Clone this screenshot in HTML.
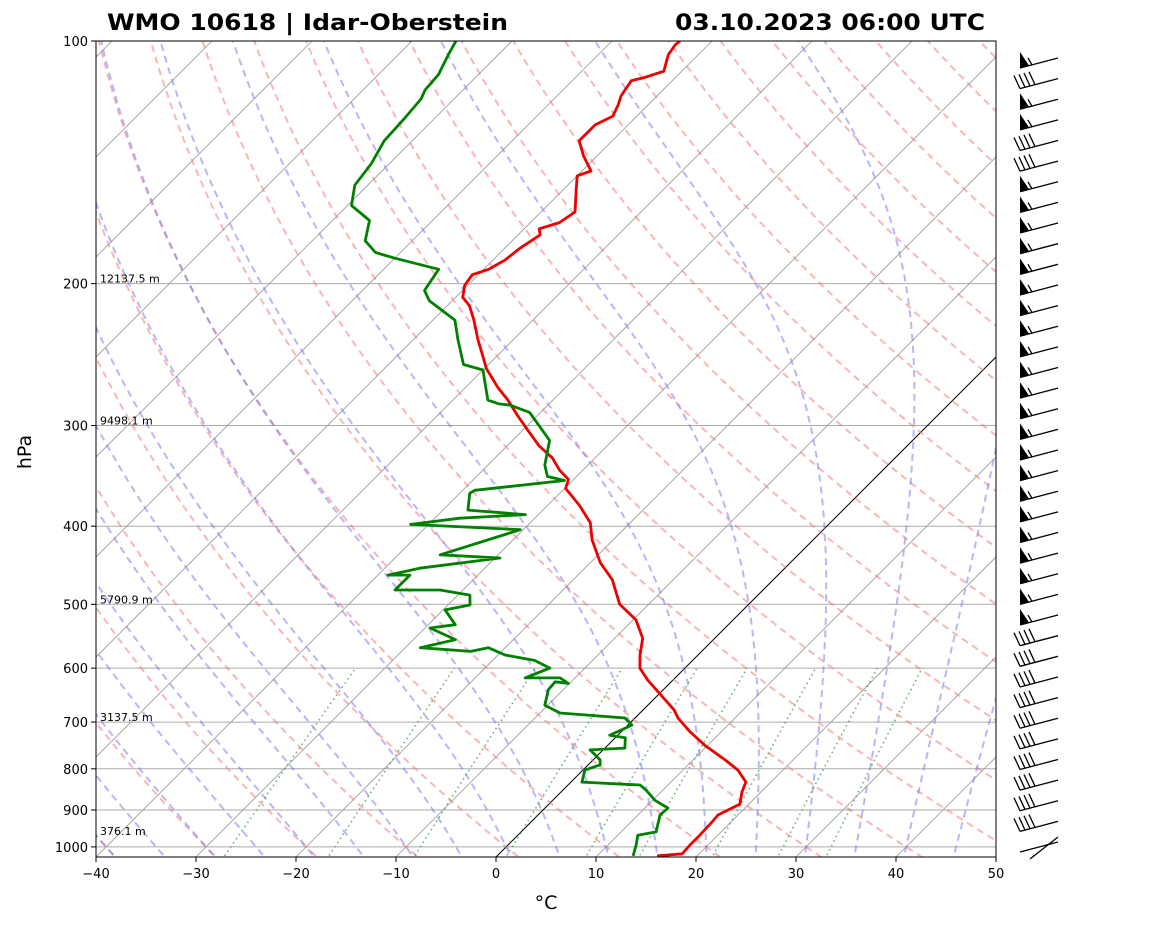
<!DOCTYPE html>
<html><head><meta charset="utf-8">
<style>
body{margin:0;background:#fff;font-family:"Liberation Sans",sans-serif;}
svg text{font-family:"DejaVu Sans","Liberation Sans",sans-serif;}
</style></head>
<body>
<svg id="chart" width="1160" height="925" viewBox="0 0 1160 925" xmlns="http://www.w3.org/2000/svg">
<defs><clipPath id="plotclip"><rect x="96" y="41" width="900" height="816"/></clipPath></defs>
<rect x="0" y="0" width="1160" height="925" fill="#fff"/>
<g id="bg" clip-path="url(#plotclip)"></g>
<g id="series" clip-path="url(#plotclip)"></g>
<rect x="96" y="41" width="900" height="816" fill="none" stroke="#000" stroke-width="1"/>
<g id="axes"></g>
<g id="barbs"></g>
<text x="107" y="30" font-size="22" font-weight="bold" textLength="401" lengthAdjust="spacingAndGlyphs">WMO 10618 | Idar-Oberstein</text>
<text x="675" y="30" font-size="22" font-weight="bold" textLength="310" lengthAdjust="spacingAndGlyphs">03.10.2023 06:00 UTC</text>
<text x="546" y="909" font-size="19" text-anchor="middle">°C</text>
<text x="31" y="452" font-size="19" text-anchor="middle" transform="rotate(-90 31 452)">hPa</text>
</svg>
<script>
const tempPressures=[1026,1020,994,967,931,913,885,855,831,803,780,749,720,692,676,646,621,600,578,551,523,500,487,466,444,416,396,377,359,350,341,329,318,304,291,279,269,255,245,235,222,213,208,201,195,192,187,181,174,171,168,163,153,147,145,139,133,127,124,120,117,112,111,109,104,101,100];
const temperatures=[16.0,18.3,18.2,18.2,18.1,18.0,19.1,18.1,17.5,15.5,13.2,9.8,6.9,4.3,3.1,0.1,-2.5,-4.5,-5.8,-7.2,-9.7,-12.9,-14.1,-16.1,-19.0,-22.1,-24.0,-26.8,-29.9,-30.5,-32.3,-34.3,-36.8,-39.5,-42.1,-44.5,-46.8,-49.8,-51.6,-53.5,-55.9,-57.8,-59.3,-60.3,-60.6,-59.5,-58.8,-58.5,-57.8,-58.5,-57.1,-56.6,-58.7,-60.0,-59.1,-61.3,-63.3,-63.3,-62.4,-63.0,-63.6,-64.1,-63.1,-61.8,-63.0,-63.3,-63.2];
const dewPressures=[1026,994,967,958,913,895,875,850,838,831,803,791,780,758,754,732,727,706,692,682,667,638,624,627,617,617,600,587,578,566,572,566,553,535,530,508,501,487,480,480,460,460,451,438,434,404,398,391,387,382,364,361,351,347,336,313,289,283,282,279,267,256,252,235,222,210,204,192,186,183,177,167,160,151,142,133,125,118,115,110,104,100];
const dewpoints=[13.6,12.8,12.0,13.5,12.2,12.3,10.2,8.3,7.2,1.1,0.2,1.2,0.7,-1.3,2.0,1.0,-0.8,0.4,-1.0,-8.0,-10.3,-11.5,-11.6,-10.1,-11.5,-15.0,-13.5,-15.8,-19.3,-21.7,-23.1,-28.5,-25.8,-29.5,-27.3,-29.8,-27.8,-28.8,-32.3,-36.8,-36.8,-39.0,-36.5,-29.5,-35.8,-30.3,-41.8,-37.5,-31.3,-37.5,-39.0,-38.8,-30.8,-32.9,-34.3,-36.3,-41.1,-43.8,-45.0,-46.5,-48.3,-50.0,-52.5,-55.5,-57.8,-62.3,-63.8,-64.5,-70.0,-72.5,-74.7,-76.3,-79.6,-81.3,-81.8,-82.8,-83.0,-83.3,-83.8,-84.0,-85.0,-85.6];
const xTicks=[-40,-30,-20,-10,0,10,20,30,40,50];
const pTicks=[100,200,300,400,500,600,700,800,900,1000];
const heightLevels=[200,300,500,700,1000];
const heightLabels=["12137.5 m","9498.1 m","5790.9 m","3137.5 m","376.1 m"];
const barbPressures=[106,110,118,125,138,143,149,155,166,172,176,182,188,195,202,210,218,227,236,247,259,272,286,301,316,328,343,356,372,388,407,425,441,455,476,498,513,536,581];
const barbSpeeds=[55,30,55,55,35,35,55,55,55,55,55,55,55,55,55,55,55,55,55,55,55,55,55,55,55,55,55,55,35,35,35,35,35,35,35,35,35,35,10];

const NS="http://www.w3.org/2000/svg";
const X0=96,YT=41,YB=857,PX=10,LS=350;
function yOf(p){return YT+LS*Math.log(p/100);}
function xOf(t,p){const y=yOf(p);return X0+(t+40)*PX+(YB-y);}
function mk(parent,tag,attrs){const e=document.createElementNS(NS,tag);for(const k in attrs)e.setAttribute(k,attrs[k]);parent.appendChild(e);return e;}
function pathFrom(pairs){return pairs.map((q,i)=>(i?'L':'M')+q[0].toFixed(1)+','+q[1].toFixed(1)).join('');}
const bg=document.getElementById('bg'),series=document.getElementById('series'),axes=document.getElementById('axes'),barbs=document.getElementById('barbs');
const pLevels=[];for(let p=1050;p>=95;p-=5)pLevels.push(p);

pTicks.forEach(p=>{if(p===100)return;const l=mk(bg,'line',{x1:96,x2:996,y1:yOf(p),y2:yOf(p),stroke:'#aaa','stroke-width':1});
});
for(let t=-160;t<=50;t+=10){const l=mk(bg,'line',{x1:xOf(t,1050),y1:yOf(1050),x2:xOf(t,95),y2:yOf(95),stroke:t===0?'#000':'#999','stroke-width':t===0?1:0.8});
}
for(let t0=-40;t0<=200;t0+=10){const th=t0+273.15;const pts=pLevels.map(p=>[xOf(th*Math.pow(p/1000,0.2857)-273.15,p),yOf(p)]);
const e=mk(bg,'path',{d:pathFrom(pts),fill:'none',stroke:'#f07070','stroke-opacity':0.5,'stroke-width':2,'stroke-dasharray':'7,5'});
}
function es(tc){return 6.112*Math.exp(17.67*tc/(tc+243.5));}
function dTdp(T,p){const Rd=287.04,Cp=1005.7,Lv=2.501e6,eps=0.622;const tc=T-273.15;const e=es(tc);const rs=eps*e/(p-e);
return (Rd*T+Lv*rs)/(p*(Cp+Lv*Lv*rs*eps/(Rd*T*T)));}
function moist(t0){let up=[],dn=[];let T=t0+273.15;for(let p=1000;p>=100;p-=2){up.push([p,T]);T-=dTdp(T,p)*2;}
T=t0+273.15;for(let p=1000;p<=1050;p+=2){dn.unshift([p,T]);T+=dTdp(T,p)*2;}return dn.concat(up.slice(1));}
for(let t0=-40;t0<=45;t0+=5){const pts=moist(t0).map(q=>[xOf(q[1]-273.15,q[0]),yOf(q[0])]);
const e=mk(bg,'path',{d:pathFrom(pts),fill:'none',stroke:'#7070f0','stroke-opacity':0.5,'stroke-width':2,'stroke-dasharray':'7,5'});
}
[0.0004,0.001,0.002,0.004,0.007,0.01,0.016,0.024,0.032].forEach(w=>{const pts=[];for(let p=1050;p>=600;p-=10){const e=p*w/(0.622+w);const l=Math.log(e/6.112);const td=243.5*l/(17.67-l);pts.push([xOf(td,p),yOf(p)]);}
const e=mk(bg,'path',{d:pathFrom(pts),fill:'none',stroke:'#3a9a3a','stroke-opacity':0.75,'stroke-width':1.6,'stroke-dasharray':'1.5,3.5'});
});
const tl=mk(series,'path',{d:pathFrom(tempPressures.map((p,i)=>[xOf(temperatures[i],p),yOf(p)])),fill:'none',stroke:'#e00',"stroke-width":2.8,'stroke-linejoin':'round'});

const dl=mk(series,'path',{d:pathFrom(dewPressures.map((p,i)=>[xOf(dewpoints[i],p),yOf(p)])),fill:'none',stroke:'#008000',"stroke-width":2.8,'stroke-linejoin':'round'});

xTicks.forEach(t=>{const x=X0+(t+40)*PX;mk(axes,'line',{x1:x,x2:x,y1:857,y2:862,stroke:'#000'});
const tx=mk(axes,'text',{x:x,y:878,'font-size':13,'text-anchor':'middle'});tx.textContent=t<0?'\u2212'+(-t):String(t);
});
pTicks.forEach(p=>{const y=yOf(p);mk(axes,'line',{x1:91,x2:96,y1:y,y2:y,stroke:'#000'});
const tx=mk(axes,'text',{x:88,y:y+5,'font-size':13,'text-anchor':'end'});tx.textContent=p;
});
heightLevels.forEach((p,i)=>{const tx=mk(axes,'text',{x:100,y:yOf(p)-(p===1000?12:1),'font-size':11});tx.textContent=heightLabels[i];
});
barbPressures.forEach((p,i)=>{
 const y=61+i*((845-61)/(barbPressures.length-1));
 const g=mk(barbs,'g',{});
 
 const sx=1020,sy=y+7,ex=1058,ey=y-3;
 mk(g,'line',{x1:sx,y1:sy,x2:ex,y2:ey,stroke:'#000','stroke-width':1.3});
 const s=barbSpeeds[i];
 if(s>=50){mk(g,'path',{d:`M${sx},${sy} L${sx+9},${sy-2.5} L${sx},${sy-16}Z`,fill:'#000'});
   mk(g,'line',{x1:sx+12,y1:sy-3,x2:sx+8,y2:sy-10,stroke:'#000','stroke-width':1.3});}
 else if(s>=15){for(let k=0;k<4;k++){const bx=sx+k*5,by=sy-k*1.3;mk(g,'line',{x1:bx,y1:by,x2:bx-6,y2:by-13,stroke:'#000','stroke-width':1.3});}}
 else {mk(g,'line',{x1:1030,y1:y+14,x2:1058,y2:y-8,stroke:'#000','stroke-width':1.3});}
});
</script>
</body></html>
